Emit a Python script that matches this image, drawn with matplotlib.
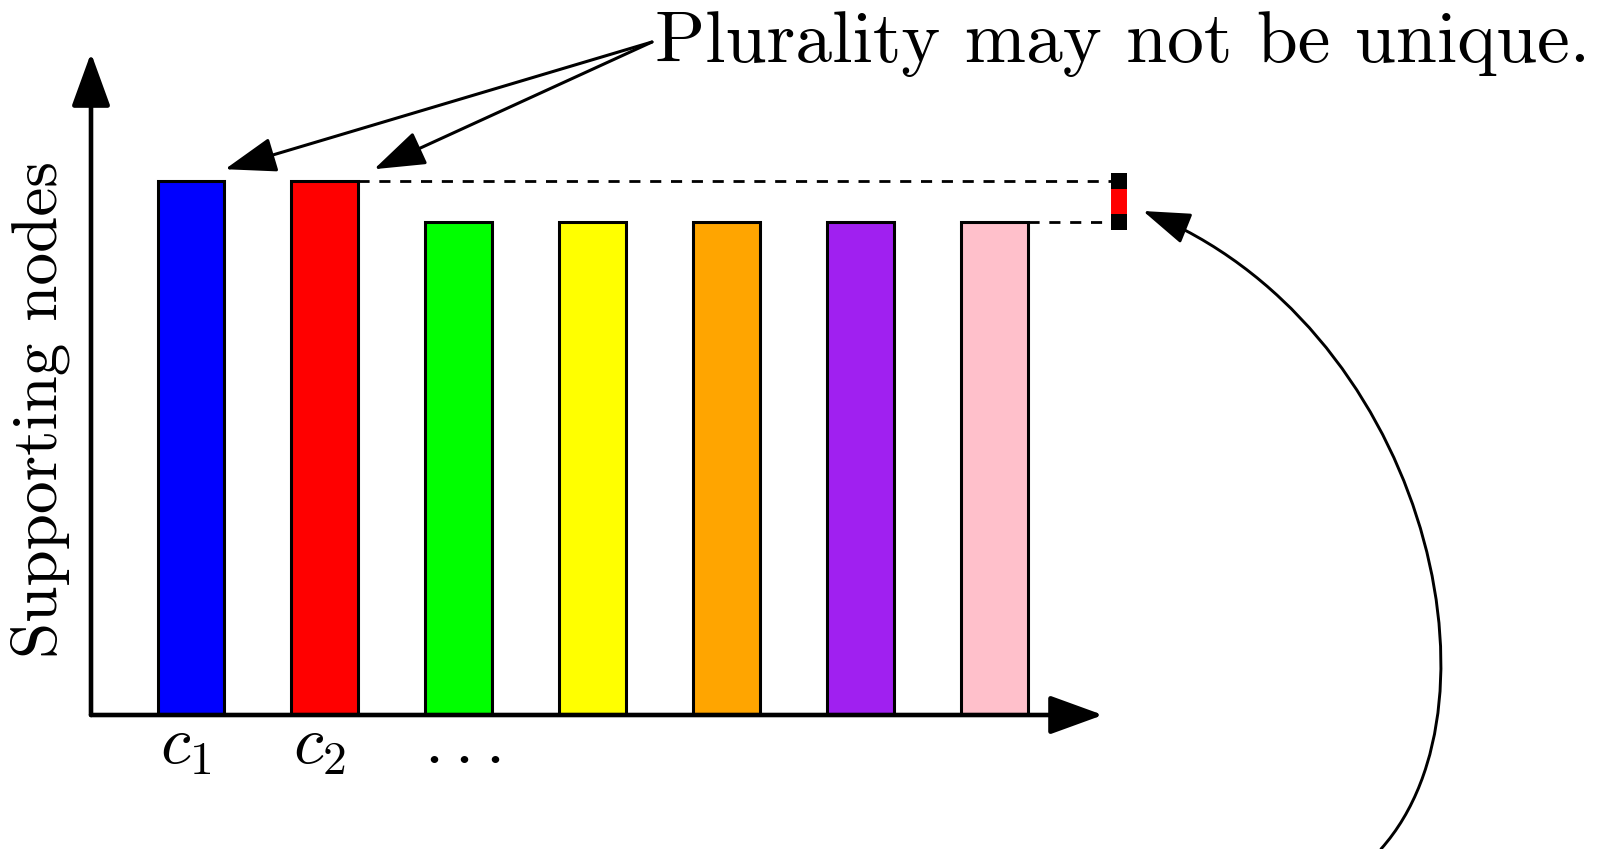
import numpy as np
import matplotlib.pyplot as plt
from matplotlib.patches import FancyArrowPatch, ArrowStyle
from matplotlib.path import Path

plt.rcParams['font.family'] = 'cmr10'
plt.rcParams['mathtext.fontset'] = 'cm'
plt.rcParams['axes.unicode_minus'] = False

# data
candidates = ['$c_1$', '$c_2$', r'$...$', '', '', '', '']
support = [13, 13, 12, 12, 12, 12, 12]
colors = ['blue', 'red', 'lime', 'yellow', 'orange', '#a020f0', 'pink']
title_text = 'Plurality may not be unique.'
ylabel_text = 'Supporting nodes'

W, H = 1602, 849
fig = plt.figure(figsize=(W / 100, H / 100), dpi=100)

def px(x, y):
    # pixel position (top-left origin) -> figure fraction
    return (x / W, 1 - y / H)

# axes: y axis at x=91px, x axis at y=715px, arrow tips at 1098 / 53
ax = fig.add_axes([91 / W, (H - 715) / H, (1098 - 91) / W, (715 - 53) / H])
x = np.arange(len(support))
ax.bar(x, support, width=0.5, color=colors, edgecolor='black', linewidth=2.2, zorder=2)
ax.set_xlim(-0.747, 6.774)
ax.set_ylim(0, 16.12)
ax.axis('off')

# axis arrows
axis_head = ArrowStyle('-|>', head_length=33, head_width=12)
for end in [(1.005, 0), (0, 1)]:
    ax.annotate('', xy=end, xytext=(0, 0), xycoords='axes fraction',
                arrowprops=dict(arrowstyle=axis_head, lw=3.3, color='black',
                                shrinkA=0, shrinkB=0, mutation_scale=1))

# category labels (the c's sit a touch left of centre, the dots a touch right)
for i, lab in enumerate(candidates):
    if lab:
        shift = 0.03 if lab == r'$...$' else -0.04
        ax.text(i + shift, -1.17, lab, ha='center', va='baseline', fontsize=49)

# dashed guide lines from the two levels
top = max(support)
second = max(v for v in support if v < top)
last_top = max(i for i, v in enumerate(support) if v == top)
last_second = max(i for i, v in enumerate(support) if v == second)
xm = 6.93
ax.plot([last_top + 0.25, xm - 0.06], [top, top], color='black', lw=2,
        ls=(0, (4, 3.5)), clip_on=False)
ax.plot([last_second + 0.25, xm - 0.06], [second, second], color='black', lw=2,
        ls=(0, (4, 3.5)), clip_on=False)

# gap marker
ax.plot([xm, xm], [second, top], color='red', lw=11.5, solid_capstyle='butt', clip_on=False)
ax.plot([xm, xm], [second, top], 's', color='black', ms=11.5, mew=0, clip_on=False)

# title and its arrows
fig.text(*px(655, 62), title_text, fontsize=53, ha='left', va='baseline')
src = (652, H - 42)
for tip in [(0.254, 13.29), (1.367, 13.29)]:
    ax.annotate('', xy=tip, xycoords='data', xytext=src, textcoords='figure pixels',
                arrowprops=dict(arrowstyle=ArrowStyle('-|>', head_length=32, head_width=11),
                                lw=2.2, color='black', shrinkA=0, shrinkB=0,
                                mutation_scale=1))

# y label
fig.text(*px(40, 409), ylabel_text, rotation=90, fontsize=47, ha='center', va='center')

# curved arrow pointing at the gap
curve_px = [(1381, 849), (1514, 700), (1421, 323), (1143, 211)]
verts = [px(a, b) for a, b in curve_px]
curve = FancyArrowPatch(path=Path(verts, [Path.MOVETO, Path.CURVE4, Path.CURVE4, Path.CURVE4]),
                        arrowstyle=ArrowStyle('-|>', head_length=29.5, head_width=10),
                        mutation_scale=1, lw=2.1, color='black', transform=fig.transFigure)
fig.add_artist(curve)

fig.savefig('out.png', dpi=100)
